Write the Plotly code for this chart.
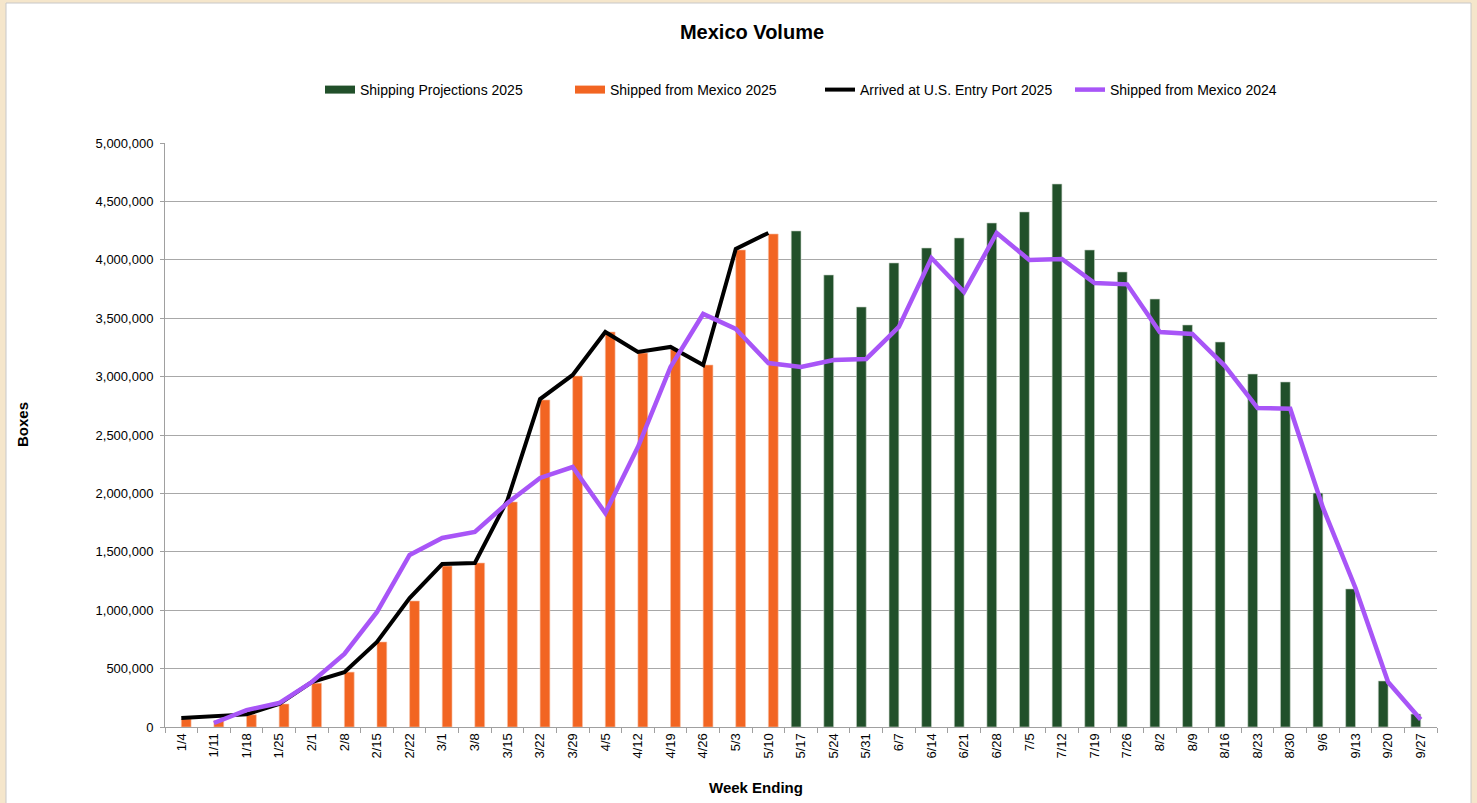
"""
Mexico Volume
=============

Weekly boxes shipped from / arrived from Mexico, with projections.
"""

import plotly.graph_objects as go

# Week ending labels (x categories)
weeks = [
    "1/4", "1/11", "1/18", "1/25", "2/1", "2/8", "2/15", "2/22", "3/1", "3/8",
    "3/15", "3/22", "3/29", "4/5", "4/12", "4/19", "4/26", "5/3", "5/10",
    "5/17", "5/24", "5/31", "6/7", "6/14", "6/21", "6/28", "7/5", "7/12",
    "7/19", "7/26", "8/2", "8/9", "8/16", "8/23", "8/30", "9/6", "9/13",
    "9/20", "9/27",
]

# Shipping Projections 2025 (green bars, from 5/17 on)
projections_2025 = [None] * 19 + [
    4247000, 3870000, 3596000, 3973000, 4101000, 4187000, 4315000, 4410000,
    4649000, 4084000, 3896000, 3664000, 3442000, 3296000, 3022000, 2954000,
    2003000, 1182000, 394000, 111000,
]

# Shipped from Mexico 2025 (orange bars, up to 5/10)
shipped_2025 = [
    68000, 55000, 105000, 197000, 375000, 470000, 728000, 1079000, 1378000,
    1404000, 1927000, 2800000, 3005000, 3382000, 3202000, 3230000, 3099000,
    4084000, 4221000,
] + [None] * 20

# Arrived at U.S. Entry Port 2025 (black line)
arrived_2025 = [
    77000, 92000, 108000, 197000, 385000, 470000, 728000, 1104000, 1395000,
    1404000, 1943000, 2808000, 3014000, 3382000, 3211000, 3254000, 3099000,
    4093000, 4230000,
] + [None] * 20

# Shipped from Mexico 2024 (purple line, from 1/11)
shipped_2024 = [
    None, 34000, 145000, 205000, 385000, 625000, 985000, 1473000, 1618000,
    1670000, 1918000, 2132000, 2226000, 1832000, 2397000, 3082000, 3536000,
    3408000, 3116000, 3082000, 3142000, 3151000, 3425000, 4015000, 3724000,
    4230000, 3998000, 4007000, 3801000, 3790000, 3382000, 3365000, 3090000,
    2731000, 2725000, 1880000, 1190000, 385000, 65000,
]

GREEN = "#21502a"
ORANGE = "#f26522"
PURPLE = "#a855f7"
FONT = "Liberation Sans, Arial, sans-serif"

W, H = 1477, 803
L, R, T, B = 165, 40, 143, 76
PW, PH = W - L - R, H - T - B


def px_x(x):
    # page pixel -> paper x
    return (x - L) / PW


def px_y(y):
    # page pixel -> paper y
    return (H - B - y) / PH


fig = go.Figure()

# bars (legend drawn by the dummy line traces below, for wide swatches)
fig.add_trace(go.Bar(
    x=weeks, y=projections_2025, name="Shipping Projections 2025",
    marker=dict(color=GREEN, line=dict(color="#c9d3ca", width=0.6)),
    showlegend=False, legendgroup="proj",
))
fig.add_trace(go.Bar(
    x=weeks, y=shipped_2025, name="Shipped from Mexico 2025",
    marker=dict(color=ORANGE, line=dict(color="#f7c0a4", width=0.6)),
    showlegend=False, legendgroup="ship25",
))
fig.add_trace(go.Scatter(
    x=[None], y=[None], mode="lines", name="Shipping Projections 2025",
    line=dict(color=GREEN, width=8), legendgroup="proj",
))
fig.add_trace(go.Scatter(
    x=[None], y=[None], mode="lines", name="Shipped from Mexico 2025",
    line=dict(color=ORANGE, width=8), legendgroup="ship25",
))
fig.add_trace(go.Scatter(
    x=weeks, y=arrived_2025, mode="lines", name="Arrived at U.S. Entry Port 2025",
    line=dict(color="black", width=4), connectgaps=False,
))
fig.add_trace(go.Scatter(
    x=weeks, y=shipped_2024, mode="lines", name="Shipped from Mexico 2024",
    line=dict(color=PURPLE, width=4.5), connectgaps=False,
))

fig.update_layout(
    width=W, height=H,
    margin=dict(l=L, r=R, t=T, b=B, pad=0),
    paper_bgcolor="#f5e6cb",
    plot_bgcolor="white",
    font=dict(family=FONT, size=13, color="black"),
    barmode="group", bargap=0.40, bargroupgap=0,
    title=dict(
        text="<b>Mexico Volume</b>", x=752 / W, xanchor="center",
        y=1 - 32 / H, yanchor="middle", font=dict(size=20),
    ),
    legend=dict(
        orientation="h", x=px_x(320), xanchor="left", y=px_y(90), yanchor="middle",
        font=dict(size=14), itemwidth=30, bgcolor="rgba(0,0,0,0)",
        entrywidth=205, entrywidthmode="pixels",
    ),
    showlegend=True,
)

fig.update_xaxes(
    type="category", tickangle=-90, tickson="boundaries",
    ticks="outside", ticklen=5, tickcolor="#a0a0a0",
    showline=True, linecolor="#a0a0a0", linewidth=1,
    showgrid=False, tickfont=dict(size=13),
)
fig.update_yaxes(
    range=[0, 5000000], dtick=500000, tickformat=",",
    ticks="outside", ticklen=4, tickcolor="#a0a0a0",
    showline=True, linecolor="#a0a0a0", linewidth=1,
    gridcolor="#a8a8a8", gridwidth=1, zeroline=False,
    tickfont=dict(size=13), ticklabelstandoff=4,
)

# white chart panel on the beige page
fig.add_shape(
    type="rect", xref="paper", yref="paper", layer="below",
    x0=px_x(6), x1=px_x(1471), y0=px_y(820), y1=px_y(3),
    fillcolor="white", line=dict(color="#c8c8c8", width=1),
)

# axis titles
fig.add_annotation(
    text="<b>Boxes</b>", xref="paper", yref="paper", x=px_x(22), y=px_y(425),
    xanchor="center", yanchor="middle",
    textangle=-90, showarrow=False, font=dict(size=15),
)
fig.add_annotation(
    text="<b>Week Ending</b>", xref="paper", yref="paper", x=px_x(756), y=px_y(787),
    xanchor="center", yanchor="middle",
    showarrow=False, font=dict(size=15),
)

# drop the default body margin so the figure sits at the page origin
fig.write_html(
    "out.html",
    config={"displayModeBar": False},
    post_script="document.body.style.margin='0';",
)
